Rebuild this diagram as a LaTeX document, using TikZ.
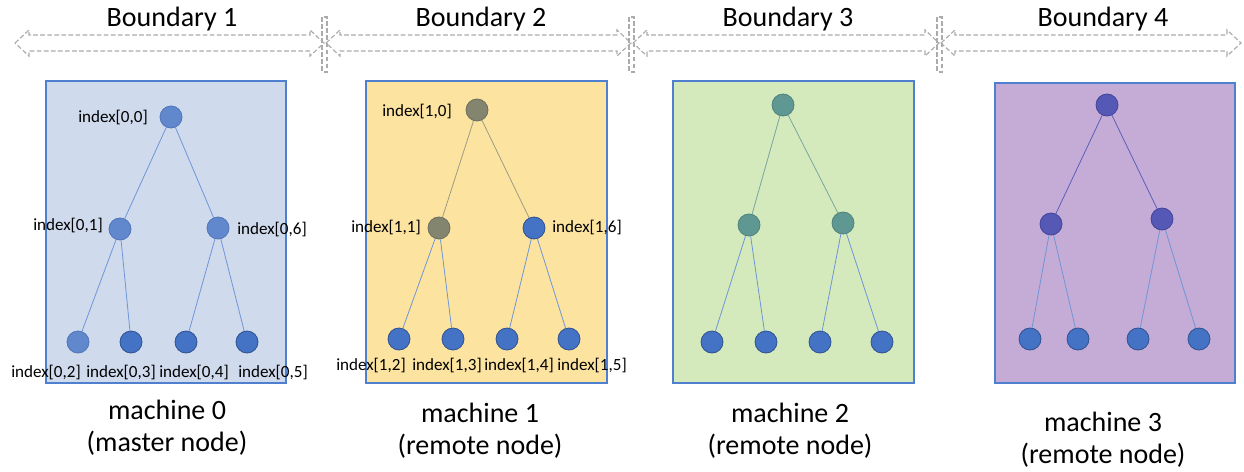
\documentclass[tikz,border=0pt]{standalone}
\usepackage{fontspec}
\setmainfont{Carlito}
\definecolor{bxzero}{HTML}{CFDAED}
\definecolor{bxone}{HTML}{FCE4A0}
\definecolor{bxtwo}{HTML}{D4EABC}
\definecolor{bxthree}{HTML}{C5ACD6}
\definecolor{boxb}{HTML}{4F7FCF}
\definecolor{nlb}{HTML}{6187CC}
\definecolor{nlbd}{HTML}{5075B8}
\definecolor{ndb}{HTML}{4472C4}
\definecolor{ndbd}{HTML}{2F528F}
\definecolor{ngr}{HTML}{83856F}
\definecolor{ngrd}{HTML}{6C6E5C}
\definecolor{ntl}{HTML}{5F9892}
\definecolor{ntld}{HTML}{4F827C}
\definecolor{nin}{HTML}{5558B4}
\definecolor{nind}{HTML}{41449A}
\definecolor{elb}{HTML}{6F95D6}
\definecolor{egr}{HTML}{9C9C84}
\definecolor{etl}{HTML}{7AA59C}
\definecolor{ein}{HTML}{5A5FB8}
\definecolor{arrg}{HTML}{ABABAB}
\begin{document}
\begin{tikzpicture}[x=0.75pt,y=-0.75pt,
  tn/.style={circle,minimum size=16.5pt,inner sep=0pt,line width=0.6pt},
  lb/.style={tn,fill=nlb,draw=nlbd},
  db/.style={tn,fill=ndb,draw=ndbd},
  gr/.style={tn,fill=ngr,draw=ngrd},
  tl/.style={tn,fill=ntl,draw=ntld},
  ind/.style={tn,fill=nin,draw=nind},
  idx/.style={font=\fontsize{12.8}{14}\selectfont,inner sep=0pt},
  big/.style={font=\fontsize{21}{24}\selectfont,align=center,inner sep=0pt},
  mbox/.style={draw=boxb,line width=1.1pt},
  edge/.style={line width=0.6pt},
  barrow/.style={draw=arrg,dash pattern=on 3.5pt off 1.8pt,line width=0.85pt},
]
\useasboundingbox (0,0) rectangle (1244,471);

% boundary arrows
\foreach \a/\b in {15/324, 326/631, 633/939, 941/1241}{
  \draw[barrow] (\a,43) -- (\a+14,30) -- (\a+14,35) -- (\b-14,35) -- (\b-14,30)
    -- (\b,43) -- (\b-14,56) -- (\b-14,51) -- (\a+14,51) -- (\a+14,56) -- cycle;
}
\foreach \x in {322,629,937}{
  \draw[barrow] (\x,17) rectangle (\x+5,72);
}
\node[big] (bd1) at (172,19) {Boundary 1};
\node[big] (bd2) at (481,19) {Boundary 2};
\node[big] (bd3) at (788,19) {Boundary 3};
\node[big] (bd4) at (1103,19) {Boundary 4};

% machine boxes
\draw[mbox,fill=bxzero] (46,81) rectangle (286,383);
\draw[mbox,fill=bxone] (366,81) rectangle (607,383);
\draw[mbox,fill=bxtwo] (673,81) rectangle (914,383);
\draw[mbox,fill=bxthree] (995,83) rectangle (1235,383);

% tree 0
\node[lb] (r0) at (171,117) {};
\node[lb] (a0) at (120,229) {};
\node[lb] (b0) at (218,228) {};
\node[lb] (c0) at (78,342) {};
\node[db] (d0) at (131,342) {};
\node[db] (e0) at (186,342) {};
\node[db] (f0) at (247,342) {};
\draw[edge,elb] (r0) -- (a0) (r0) -- (b0) (a0) -- (c0) (a0) -- (d0) (b0) -- (e0) (b0) -- (f0);
\node[idx] (l00) at (113,117) {index[0,0]};
\node[idx] (l01) at (68,225) {index[0,1]};
\node[idx] (l06) at (272,229) {index[0,6]};
\node[idx] (l02) at (46,372) {index[0,2]};
\node[idx] (l03) at (121,372) {index[0,3]};
\node[idx] (l04) at (194,372) {index[0,4]};
\node[idx] (l05) at (273,372) {index[0,5]};

% tree 1
\node[gr] (r1) at (477,110) {};
\node[gr] (a1) at (439,228) {};
\node[db] (b1) at (534,228) {};
\node[db] (c1) at (399,339) {};
\node[db] (d1) at (453,339) {};
\node[db] (e1) at (507,339) {};
\node[db] (f1) at (569,339) {};
\draw[edge,egr] (r1) -- (a1) (r1) -- (b1);
\draw[edge,elb] (a1) -- (c1) (a1) -- (d1) (b1) -- (e1) (b1) -- (f1);
\node[idx] (l10) at (417,111) {index[1,0]};
\node[idx] (l11) at (386,227) {index[1,1]};
\node[idx] (l16) at (587,227) {index[1,6]};
\node[idx] (l12) at (371,365) {index[1,2]};
\node[idx] (l13) at (447,365) {index[1,3]};
\node[idx] (l14) at (519,365) {index[1,4]};
\node[idx] (l15) at (592,365) {index[1,5]};

% tree 2
\node[tl] (r2) at (783,105) {};
\node[tl] (a2) at (749,225) {};
\node[tl] (b2) at (843,223) {};
\node[db] (c2) at (712,342) {};
\node[db] (d2) at (766,342) {};
\node[db] (e2) at (820,342) {};
\node[db] (f2) at (882,342) {};
\draw[edge,etl] (r2) -- (a2) (r2) -- (b2);
\draw[edge,elb] (a2) -- (c2) (a2) -- (d2) (b2) -- (e2) (b2) -- (f2);

% tree 3
\node[ind] (r3) at (1107,105) {};
\node[ind] (a3) at (1051,224) {};
\node[ind] (b3) at (1162,219) {};
\node[db] (c3) at (1030,339) {};
\node[db] (d3) at (1078,339) {};
\node[db] (e3) at (1138,339) {};
\node[db] (f3) at (1199,339) {};
\draw[edge,ein] (r3) -- (a3) (r3) -- (b3);
\draw[edge,elb] (a3) -- (c3) (a3) -- (d3) (b3) -- (e3) (b3) -- (f3);

% machine labels
\node[big] (m0) at (167,428) {machine 0\\(master node)};
\node[big] (m1) at (480,431) {machine 1\\(remote node)};
\node[big] (m2) at (790,431) {machine 2\\(remote node)};
\node[big] (m3) at (1103,440) {machine 3\\(remote node)};
\end{tikzpicture}
\end{document}
